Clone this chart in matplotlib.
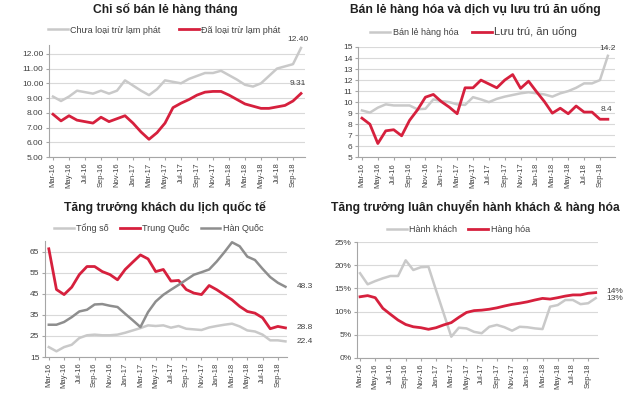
import matplotlib
matplotlib.use("Agg")
import matplotlib.pyplot as plt
import numpy as np

plt.rcParams['font.family'] = ['Liberation Sans', 'DejaVu Sans']

months = ["Mar-16", "Apr-16", "May-16", "Jun-16", "Jul-16", "Aug-16", "Sep-16", "Oct-16",
          "Nov-16", "Dec-16", "Jan-17", "Feb-17", "Mar-17", "Apr-17", "May-17", "Jun-17",
          "Jul-17", "Aug-17", "Sep-17", "Oct-17", "Nov-17", "Dec-17", "Jan-18", "Feb-18",
          "Mar-18", "Apr-18", "May-18", "Jun-18", "Jul-18", "Aug-18", "Sep-18", "Oct-18"]

# Chart 1: Chỉ số bán lẻ hàng tháng
retail_nominal = [9.1, 8.8, 9.1, 9.5, 9.4, 9.3, 9.5, 9.3, 9.5, 10.2, 9.85, 9.5, 9.2, 9.6, 10.2, 10.1,
                  10.0, 10.3, 10.5, 10.7, 10.7, 10.85, 10.55, 10.25, 9.9, 9.78, 10.0, 10.5, 11.0, 11.15, 11.3, 12.4]
retail_real = [7.9, 7.45, 7.8, 7.5, 7.4, 7.3, 7.7, 7.4, 7.6, 7.8, 7.3, 6.7, 6.2, 6.65, 7.3, 8.35,
               8.65, 8.9, 9.2, 9.4, 9.45, 9.45, 9.2, 8.9, 8.6, 8.45, 8.3, 8.3, 8.4, 8.5, 8.8, 9.31]

# Chart 2: Bán lẻ hàng hóa và dịch vụ lưu trú ăn uống
goods_retail = [9.25, 9.05, 9.5, 9.8, 9.7, 9.7, 9.7, 9.35, 9.4, 10.25, 10.1, 10.0, 9.8, 9.75, 10.45, 10.25,
                10.0, 10.3, 10.5, 10.65, 10.8, 10.9, 10.8, 10.7, 10.5, 10.8, 11.0, 11.3, 11.7, 11.7, 12.0, 14.2]
accommodation = [8.55, 8.0, 6.25, 7.4, 7.5, 6.95, 8.35, 9.3, 10.45, 10.7, 10.05, 9.55, 8.95, 11.3, 11.3, 12.0,
                 11.65, 11.3, 12.0, 12.5, 11.25, 11.9, 10.95, 10.05, 9.0, 9.45, 8.95, 9.65, 9.1, 9.1, 8.45, 8.45]

# Chart 3: Tăng trưởng khách du lịch quốc tế
tourists_total = [19.7, 17.7, 19.7, 20.8, 24.0, 25.3, 25.6, 25.3, 25.3, 25.6, 26.5, 27.6, 28.7, 30.0, 29.7, 30.0,
                  28.9, 29.7, 28.4, 28.1, 27.8, 29.0, 29.7, 30.3, 30.8, 29.5, 27.6, 27.1, 25.6, 22.9, 22.9, 22.4]
tourists_china = [66.3, 47.0, 44.6, 48.1, 54.1, 57.9, 57.9, 55.5, 54.1, 51.6, 56.5, 60.0, 63.4, 61.5, 55.5, 56.5,
                  51.0, 51.3, 47.0, 45.3, 44.6, 48.9, 46.9, 44.5, 42.1, 39.0, 36.6, 35.8, 33.6, 28.4, 29.5, 28.8]
tourists_korea = [30.3, 30.3, 31.6, 33.9, 36.6, 37.4, 39.9, 40.1, 39.3, 38.7, 35.5, 32.4, 29.2, 36.3, 41.3, 44.5,
                  46.9, 49.2, 51.6, 54.0, 55.2, 56.5, 60.3, 64.7, 69.4, 67.5, 62.6, 61.0, 56.8, 52.9, 50.2, 48.3]

# Chart 4: Tăng trưởng luân chuyển hành khách & hàng hóa (%)
passengers = [18.3, 15.9, 16.6, 17.2, 17.7, 17.7, 21.1, 19.0, 19.6, 19.7, 14.6, 9.6, 4.55, 6.5, 6.35, 5.6,
              5.3, 6.7, 7.1, 6.6, 5.85, 6.7, 6.6, 6.35, 6.2, 11.05, 11.4, 12.5, 12.5, 11.6, 11.8, 12.9]
freight = [13.2, 13.45, 13.0, 10.7, 9.4, 8.15, 7.2, 6.7, 6.5, 6.15, 6.5, 7.1, 7.6, 8.75, 9.8, 10.2,
           10.3, 10.5, 10.8, 11.2, 11.55, 11.8, 12.1, 12.5, 12.85, 12.7, 13.0, 13.35, 13.6, 13.6, 13.95, 14.1]

RED = "#D6203D"
LGRAY = "#C9C9C9"
DGRAY = "#8E8E8E"
GRID = "#D9D9D9"
AX = "#A6A6A6"

W, H = 630, 398
fig = plt.figure(figsize=(6.3, 3.98), dpi=100)


def add_ax(l, r, t, b):
    return fig.add_axes([l / W, 1 - b / H, (r - l) / W, (b - t) / H])


def style(ax, yticks, ylim, xlim, fmt=None):
    x = np.arange(len(months))
    ax.set_xlim(*xlim)
    ax.set_ylim(*ylim)
    ax.set_yticks(yticks)
    if fmt:
        ax.set_yticklabels([fmt(v) for v in yticks])
    ax.set_xticks(x[::2])
    ax.set_xticklabels(months[::2], rotation=90, fontsize=5.5, color="#404040")
    ax.tick_params(axis='y', labelsize=6, colors="#404040", length=2, color=AX, pad=2)
    ax.tick_params(axis='x', length=2, color=AX, pad=2)
    ax.grid(axis='y', color=GRID, lw=0.8)
    ax.set_axisbelow(True)
    for s in ['top', 'right']:
        ax.spines[s].set_visible(False)
    for s in ['left', 'bottom']:
        ax.spines[s].set_color(AX)
        ax.spines[s].set_linewidth(0.8)
    return x


TITLE_KW = dict(ha='center', va='center', fontsize=8.7, fontweight='bold', color="#202020")

# Chart 1
ax1 = add_ax(49, 305, 45, 157)
x = style(ax1, np.arange(5, 13), (5, 12.6), (-0.5, 31.5), fmt=lambda v: f"{v:.2f}")
ax1.plot(x, retail_nominal, color=LGRAY, lw=1.8, label="Chưa loại trừ lạm phát")
ax1.plot(x, retail_real, color=RED, lw=2.0, label="Đã loại trừ lạm phát")
ax1.annotate(f"{retail_nominal[-1]:.2f}", (x[-1], retail_nominal[-1]), xytext=(-2, 5),
             textcoords='offset points', fontsize=6, ha='center', color="#404040", annotation_clip=False)
ax1.annotate(f"{retail_real[-1]:.2f}", (x[-1], retail_real[-1]), xytext=(-2, 6),
             textcoords='offset points', fontsize=6, ha='center', color="#404040", annotation_clip=False)
ax1.legend(loc='lower center', bbox_to_anchor=(0.45, 1.02), ncol=2, frameon=False, fontsize=6.5,
           handlelength=2.2, columnspacing=2.0, handletextpad=0.3, labelcolor="#404040")
fig.text(165 / W, 1 - 9 / H, "Chỉ số bán lẻ hàng tháng", **TITLE_KW)

# Chart 2
ax2 = add_ax(358, 615, 47, 157.3)
x = style(ax2, np.arange(5, 16), (5, 15), (-0.5, 31.9))
ax2.plot(x, goods_retail, color=LGRAY, lw=1.8, label="Bán lẻ hàng hóa")
ax2.plot(x, accommodation, color=RED, lw=2.0, label="Lưu trú, ăn uống")
ax2.annotate(f"{goods_retail[-1]:.1f}", (x[-1], goods_retail[-1]), xytext=(0, 4),
             textcoords='offset points', fontsize=6, ha='center', color="#404040", annotation_clip=False)
ax2.annotate("8.4", (x[-1], accommodation[-1]), xytext=(-1, 6),
             textcoords='offset points', fontsize=6, ha='center', color="#404040", annotation_clip=False)
leg2 = ax2.legend(loc='lower center', bbox_to_anchor=(0.45, 1.02), ncol=2, frameon=False, fontsize=6.5,
                  handlelength=2.2, columnspacing=1.5, handletextpad=0.3, labelcolor="#404040")
leg2.get_texts()[1].set_fontsize(8)
fig.text(475 / W, 1 - 9 / H, "Bán lẻ hàng hóa và dịch vụ lưu trú ăn uống", **TITLE_KW)

# Chart 3
ax3 = add_ax(45, 287, 241, 357)
x = style(ax3, np.arange(15, 70, 10), (15, 70), (-0.5, 31.2))
ax3.plot(x, tourists_total, color=LGRAY, lw=1.8, label="Tổng số")
ax3.plot(x, tourists_china, color=RED, lw=2.0, label="Trung Quốc")
ax3.plot(x, tourists_korea, color=DGRAY, lw=1.8, label="Hàn Quốc")
for series in (tourists_korea, tourists_china, tourists_total):
    ax3.annotate(f"{series[-1]:.1f}", (x[-1], series[-1]), xytext=(8, 0),
                 textcoords='offset points', fontsize=6, ha='left', va='center', color="#404040",
                 annotation_clip=False)
ax3.legend(loc='lower center', bbox_to_anchor=(0.47, 1.0), ncol=3, frameon=False, fontsize=6.5,
           handlelength=2.2, columnspacing=1.2, handletextpad=0.3, labelcolor="#404040")
fig.text(165 / W, 1 - 207 / H, "Tăng trưởng khách du lịch quốc tế", **TITLE_KW)

# Chart 4
ax4 = add_ax(357, 598, 242.3, 357.7)
x = style(ax4, np.arange(0, 26, 5), (0, 25), (-0.4, 31.3), fmt=lambda v: f"{v:.0f}%")
ax4.plot(x, passengers, color=LGRAY, lw=1.8, label="Hành khách")
ax4.plot(x, freight, color=RED, lw=2.0, label="Hàng hóa")
ax4.annotate(f"{freight[-1]:.0f}%", (x[-1], freight[-1]), xytext=(8, 1),
             textcoords='offset points', fontsize=6, ha='left', va='center', color="#404040",
             annotation_clip=False)
ax4.annotate(f"{passengers[-1]:.0f}%", (x[-1], passengers[-1]), xytext=(8, 0),
             textcoords='offset points', fontsize=6, ha='left', va='center', color="#404040",
             annotation_clip=False)
ax4.legend(loc='lower center', bbox_to_anchor=(0.42, 1.0), ncol=2, frameon=False, fontsize=6.5,
           handlelength=2.2, columnspacing=1.2, handletextpad=0.3, labelcolor="#404040")
fig.text(475 / W, 1 - 207 / H, "Tăng trưởng luân chuyển hành khách & hàng hóa", **TITLE_KW)

fig.savefig("out.png", dpi=100)
